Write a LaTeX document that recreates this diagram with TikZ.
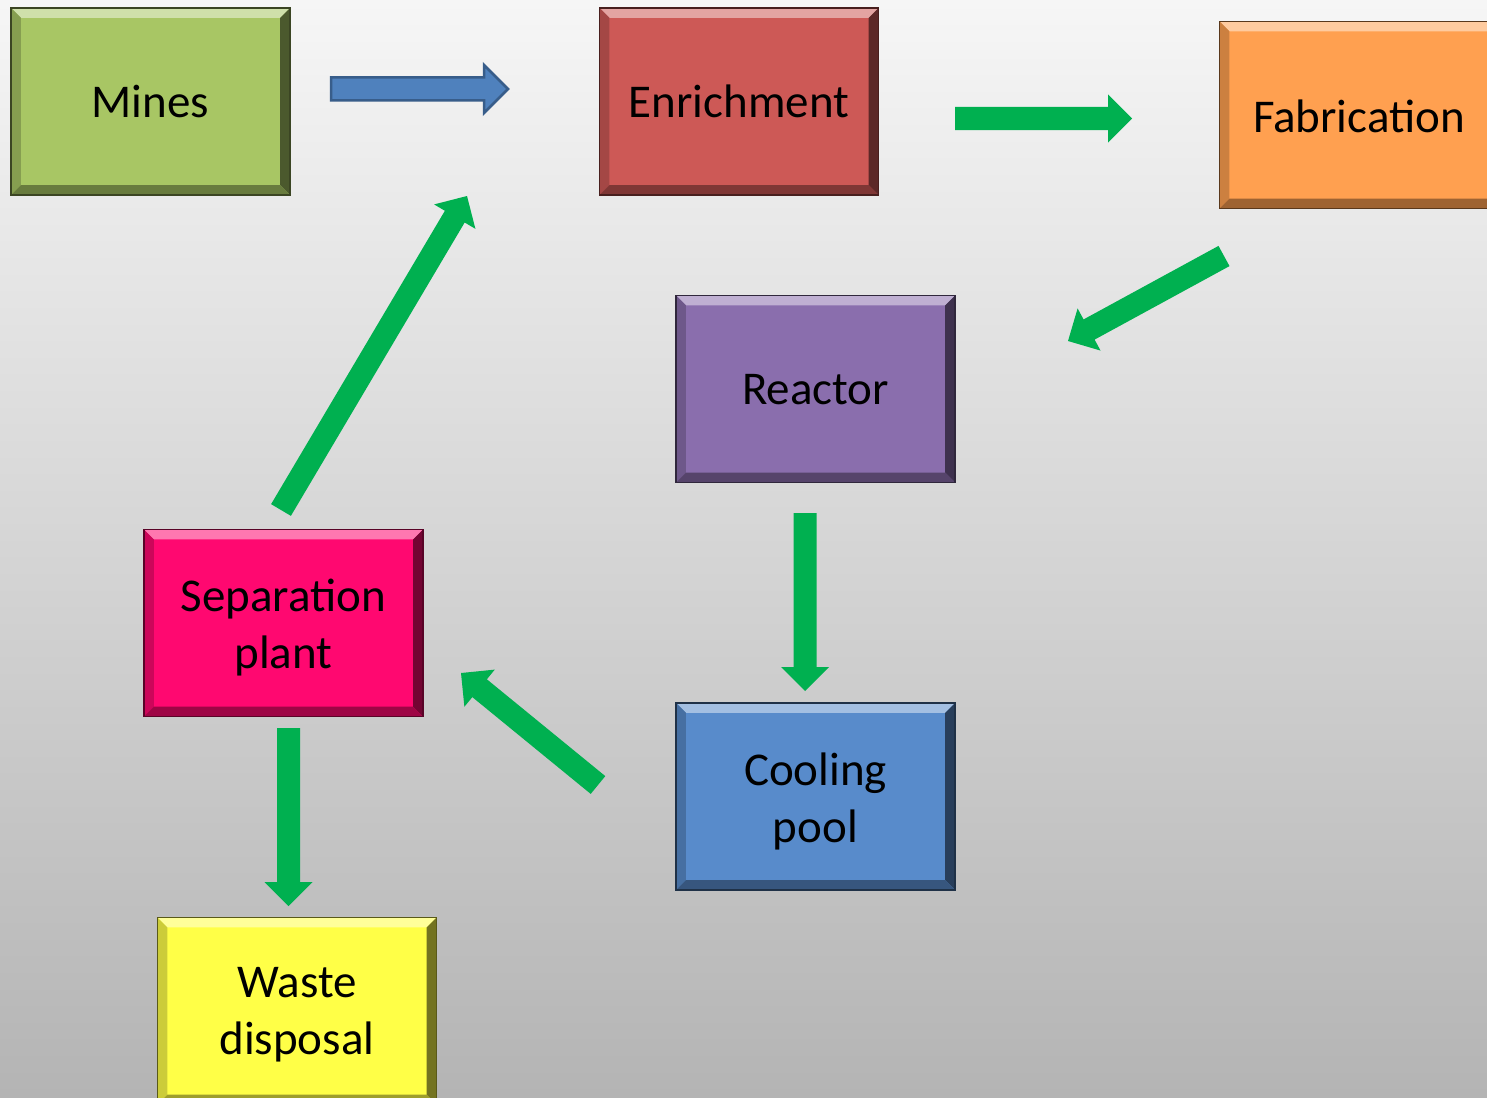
\documentclass[tikz,border=0pt]{standalone}
\usepackage{fontspec}
\setmainfont{Carlito}
\usetikzlibrary{calc}
\definecolor{bgtop}{HTML}{F6F6F6}
\definecolor{bgbot}{HTML}{B4B4B4}
\definecolor{cmines}{HTML}{A8C664}
\definecolor{cenrich}{HTML}{CD5956}
\definecolor{cfab}{HTML}{FFA050}
\definecolor{creactor}{HTML}{8A6EAD}
\definecolor{ccool}{HTML}{588BCB}
\definecolor{csep}{HTML}{FF0870}
\definecolor{cwaste}{HTML}{FFFF47}
\definecolor{agreen}{HTML}{00B050}
\definecolor{ablue}{HTML}{4F81BD}
\definecolor{abluel}{HTML}{385D8A}
\tikzset{
  stagebox/.style={rectangle, inner sep=0pt, minimum width=279pt, minimum height=187pt},
  stagetext/.style={inner sep=0pt, align=center, font=\fontsize{47}{57}\selectfont, text=black},
  greenarrow/.style={fill=agreen, draw=none},
  bluearrow/.style={fill=ablue, draw=abluel, line width=2.5pt, line join=miter},
}
\newcommand\bevelbox[5]{% name, center, colour, text, text shift
  \node[stagebox, fill=#3] (#1) at (#2) {};
  \fill[#3!55!white] (#1.north west) -- (#1.north east) -- ($(#1.north east)+(-10,10)$) -- ($(#1.north west)+(10,10)$) -- cycle;
  \fill[#3!80!black] (#1.north west) -- ($(#1.north west)+(10,10)$) -- ($(#1.south west)+(10,-10)$) -- (#1.south west) -- cycle;
  \fill[#3!45!black] (#1.north east) -- ($(#1.north east)+(-10,10)$) -- ($(#1.south east)+(-10,-10)$) -- (#1.south east) -- cycle;
  \fill[#3!62!black] (#1.south west) -- ($(#1.south west)+(10,-10)$) -- ($(#1.south east)+(-10,-10)$) -- (#1.south east) -- cycle;
  \draw[#3!35!black, line width=1.5pt] (#1.north west) rectangle (#1.south east);
  \node[stagetext] (#1-text) at ($(#1.center)+(0,#5)$) {#4};
}
\newcommand\blockarrow[3]{% style, from, to
  \coordinate (hb) at ($(#3)!24pt!(#2)$);
  \filldraw[#1] ($(#2)!11.5pt!90:(#3)$) -- ($(hb)!11.5pt!90:(#3)$) -- ($(hb)!24pt!90:(#3)$) -- (#3)
    -- ($(hb)!24pt!-90:(#3)$) -- ($(hb)!11.5pt!-90:(#3)$) -- ($(#2)!11.5pt!-90:(#3)$) -- cycle;
}
\begin{document}
\begin{tikzpicture}[x=1pt, y=-1pt]
  \useasboundingbox (0,0) rectangle (1487,1097);
  \shade[top color=bgtop, bottom color=bgbot] (0,0) rectangle (1487,1097);

  \bevelbox{mines}{150.5,101.5}{cmines}{Mines}{0}
  \bevelbox{enrich}{739,101.5}{cenrich}{Enrichment}{0}
  \bevelbox{fab}{1359,115}{cfab}{Fabrication}{1}
  \bevelbox{reactor}{815.5,389}{creactor}{Reactor}{1}
  \bevelbox{cool}{815.5,796.5}{ccool}{Cooling\\pool}{5}
  \bevelbox{sep}{283.5,623}{csep}{Separation\\plant}{5}
  \bevelbox{waste}{297,1011}{cwaste}{Waste\\disposal}{4}

  % arrow end points
  \coordinate (m2e-s) at (331,89);     \coordinate (m2e-e) at (508,89);
  \coordinate (e2f-s) at (955,118.5);  \coordinate (e2f-e) at (1132,118.5);
  \coordinate (f2r-s) at (1224,256);   \coordinate (f2r-e) at (1068,341);
  \coordinate (r2c-s) at (805,513);    \coordinate (r2c-e) at (805,691);
  \coordinate (c2s-s) at (598,785);    \coordinate (c2s-e) at (461,673);
  \coordinate (s2e-s) at (281,510);    \coordinate (s2e-e) at (467,196);
  \coordinate (s2w-s) at (288.5,728);  \coordinate (s2w-e) at (288.5,906);

  \blockarrow{bluearrow}{m2e-s}{m2e-e}
  \blockarrow{greenarrow}{e2f-s}{e2f-e}
  \blockarrow{greenarrow}{f2r-s}{f2r-e}
  \blockarrow{greenarrow}{r2c-s}{r2c-e}
  \blockarrow{greenarrow}{c2s-s}{c2s-e}
  \blockarrow{greenarrow}{s2e-s}{s2e-e}
  \blockarrow{greenarrow}{s2w-s}{s2w-e}
\end{tikzpicture}
\end{document}
